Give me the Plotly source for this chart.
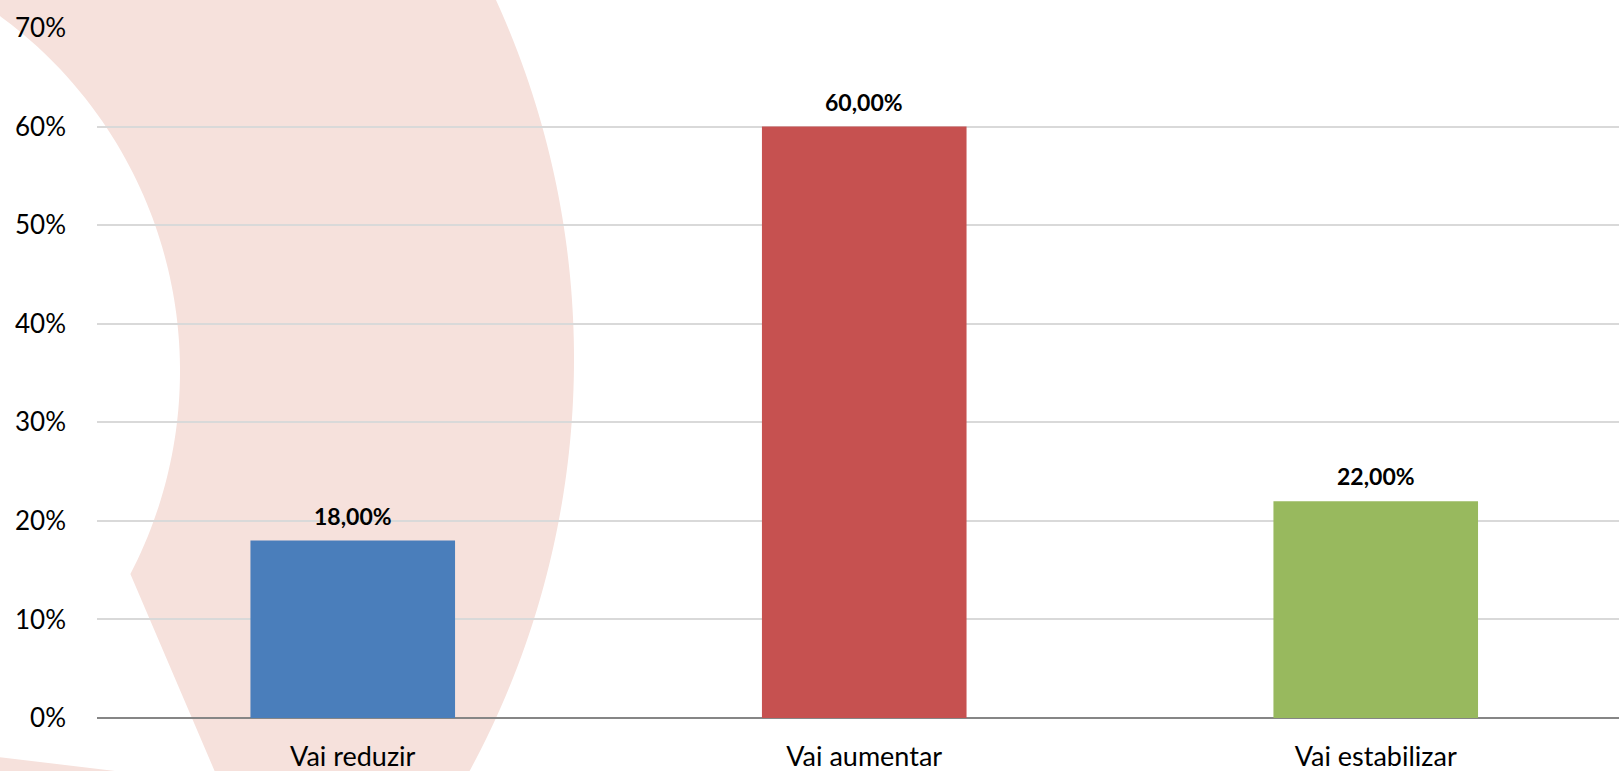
import math
import plotly.graph_objects as go

categories = ["Vai reduzir", "Vai aumentar", "Vai estabilizar"]
values = [0.18, 0.60, 0.22]
labels = ["18,00%", "60,00%", "22,00%"]
bar_colors = ["#4A7EBB", "#C65150", "#98B95E"]

W, H = 1619, 771
ML, MR, MT, MB = 97, 0, 28, 53
PW = W - ML - MR
PH = H - MT - MB


def px2paper(px, py):
    return (px - ML) / PW, (H - MB - py) / PH


def path_from(points):
    pts = [px2paper(x, y) for x, y in points]
    return "M " + " L ".join(f"{x:.5f},{y:.5f}" for x, y in pts) + " Z"


# decorative background ring (pixel geometry of the backdrop)
outer_c, outer_r = (-291, 359), 865
inner_c, inner_r = (-260, 371), 440
pts = []
for i in range(81):
    y = -20 + i * (820 / 80)
    dy = y - outer_c[1]
    pts.append((outer_c[0] + math.sqrt(outer_r**2 - dy**2), y))
pts.append((227, 800))
for i in range(81):
    y = 574 - i * (594 / 80)
    dy = y - inner_c[1]
    pts.append((inner_c[0] + math.sqrt(inner_r**2 - dy**2), y))
pts.append((-40, -20))
ring_path = path_from(pts)
wedge_path = path_from([(-10, 756), (115, 771), (120, 800), (-10, 800)])

fig = go.Figure()
fig.add_trace(go.Bar(
    x=categories, y=values, marker=dict(color=bar_colors, line=dict(width=0)),
    showlegend=False, hoverinfo="skip",
))

for c, v, t in zip(categories, values, labels):
    fig.add_annotation(x=c, y=v, text=f"<b>{t}</b>", showarrow=False,
                       yanchor="middle", yshift=25,
                       font=dict(family="Lato", size=23, color="#000000"))

fig.update_layout(
    width=W, height=H,
    margin=dict(l=ML, r=MR, t=MT, b=MB, pad=0),
    paper_bgcolor="white", plot_bgcolor="rgba(0,0,0,0)",
    bargap=0.6,
    font=dict(family="Lato", size=26, color="#000000"),
    shapes=[
        dict(type="path", xref="paper", yref="paper", path=ring_path,
             fillcolor="#F6E1DC", line=dict(width=0), layer="below"),
        dict(type="path", xref="paper", yref="paper", path=wedge_path,
             fillcolor="#F6E1DC", line=dict(width=0), layer="below"),
    ],
)
fig.update_xaxes(range=[-0.5, 2.4756], showgrid=False, showline=False,
                 ticks="", ticklabelstandoff=20,
                 tickfont=dict(family="Lato", size=27, color="#000000"))
fig.update_yaxes(range=[0, 0.7], dtick=0.1, tickformat=".0%",
                 showgrid=True, gridcolor="#D9D9D9", gridwidth=1.5,
                 zeroline=True, zerolinecolor="#868686", zerolinewidth=2,
                 showline=False, ticks="", ticklabelstandoff=30,
                 tickfont=dict(family="Lato", size=26, color="#000000"))

fig.write_html("out.html", config={"displayModeBar": False},
               post_script="document.body.style.margin='0';document.body.style.overflow='hidden';")
